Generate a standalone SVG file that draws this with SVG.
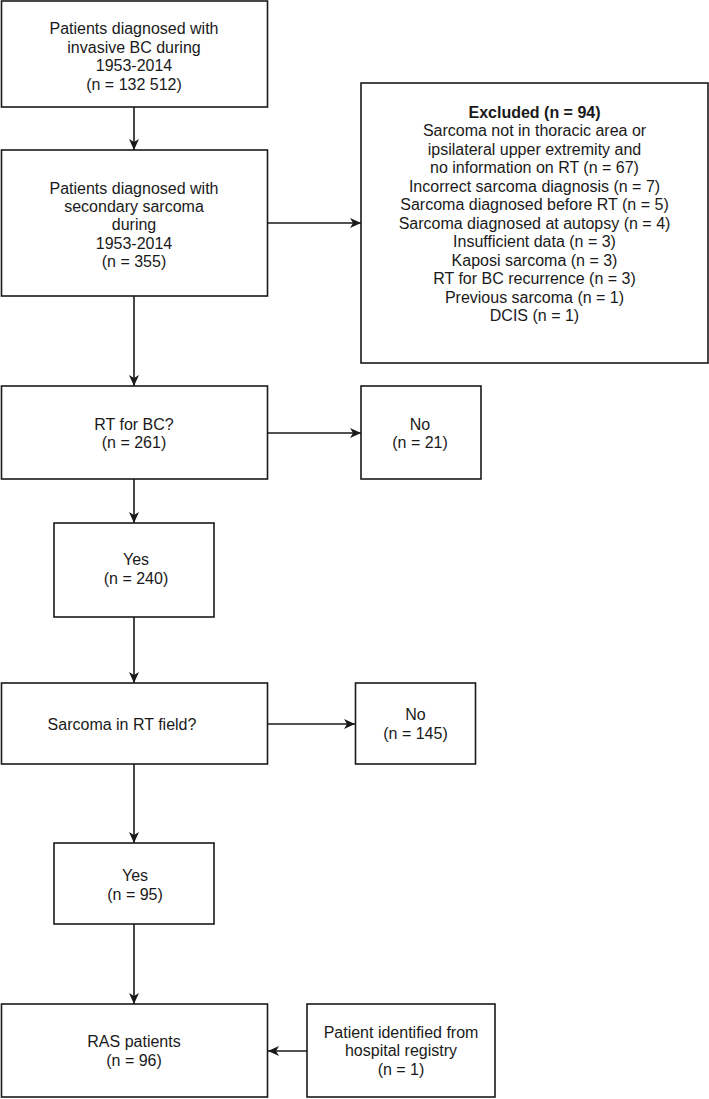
<svg xmlns="http://www.w3.org/2000/svg" width="709" height="1099" viewBox="0 0 709 1099">
<defs>
<style>
.box{fill:#fff;stroke:#1a1a1a;stroke-width:1.6}
.t{font-family:"Liberation Sans",Arial,sans-serif;font-size:16px;fill:#1a1a1a;text-anchor:middle}
.b{font-weight:bold}
.c{fill:none;stroke:#1a1a1a;stroke-width:1.6}
</style>
<marker id="ah" markerUnits="userSpaceOnUse" markerWidth="12" markerHeight="11" refX="11" refY="5.5" orient="auto">
<path d="M0,0.5 L11,5.5 L0,10.5 L3,5.5 z" fill="#1a1a1a"/>
</marker>
</defs>
<rect width="709" height="1099" fill="#fff"/>
<g id="connectors">
<line class="c" x1="134" y1="107" x2="134" y2="150" marker-end="url(#ah)"/>
<line class="c" x1="268" y1="223" x2="361" y2="223" marker-end="url(#ah)"/>
<line class="c" x1="134" y1="296" x2="134" y2="386" marker-end="url(#ah)"/>
<line class="c" x1="268" y1="433" x2="361" y2="433" marker-end="url(#ah)"/>
<line class="c" x1="134" y1="479" x2="134" y2="523" marker-end="url(#ah)"/>
<line class="c" x1="134" y1="617" x2="134" y2="683" marker-end="url(#ah)"/>
<line class="c" x1="268" y1="724" x2="355" y2="724" marker-end="url(#ah)"/>
<line class="c" x1="134" y1="764" x2="134" y2="843" marker-end="url(#ah)"/>
<line class="c" x1="134" y1="924" x2="134" y2="1004" marker-end="url(#ah)"/>
<line class="c" x1="307" y1="1051" x2="268" y2="1051" marker-end="url(#ah)"/>
</g>
<g id="n1">
<rect class="box" x="1.5" y="1" width="266" height="106"/>
<text class="t" x="134" y="34">Patients diagnosed with</text>
<text class="t" x="134" y="52.5">invasive BC during</text>
<text class="t" x="134" y="71">1953-2014</text>
<text class="t" x="134" y="89.5">(n = 132 512)</text>
</g>
<g id="n2">
<rect class="box" x="1.5" y="150" width="266" height="146"/>
<text class="t" x="134" y="193.5">Patients diagnosed with</text>
<text class="t" x="134" y="212">secondary sarcoma</text>
<text class="t" x="134" y="230">during</text>
<text class="t" x="134" y="248.5">1953-2014</text>
<text class="t" x="134" y="267">(n = 355)</text>
</g>
<g id="excluded">
<rect class="box" x="361" y="83" width="347" height="280"/>
<text class="t b" x="534.5" y="117.5">Excluded (n = 94)</text>
<text class="t" x="534.5" y="136">Sarcoma not in thoracic area or</text>
<text class="t" x="534.5" y="154.5">ipsilateral upper extremity and</text>
<text class="t" x="534.5" y="173">no information on RT (n = 67)</text>
<text class="t" x="534.5" y="191.5">Incorrect sarcoma diagnosis (n = 7)</text>
<text class="t" x="534.5" y="210">Sarcoma diagnosed before RT (n = 5)</text>
<text class="t" x="534.5" y="228.5">Sarcoma diagnosed at autopsy (n = 4)</text>
<text class="t" x="534.5" y="247">Insufficient data (n = 3)</text>
<text class="t" x="534.5" y="265.5">Kaposi sarcoma (n = 3)</text>
<text class="t" x="534.5" y="284">RT for BC recurrence (n = 3)</text>
<text class="t" x="534.5" y="302.5">Previous sarcoma (n = 1)</text>
<text class="t" x="534.5" y="321">DCIS (n = 1)</text>
</g>
<g id="rt">
<rect class="box" x="1.5" y="386" width="266" height="93"/>
<text class="t" x="134" y="429.5">RT for BC?</text>
<text class="t" x="134" y="448">(n = 261)</text>
</g>
<g id="no21">
<rect class="box" x="361" y="386" width="120" height="93"/>
<text class="t" x="420" y="429.5">No</text>
<text class="t" x="420" y="448">(n = 21)</text>
</g>
<g id="yes240">
<rect class="box" x="54" y="523" width="160" height="94"/>
<text class="t" x="136" y="565">Yes</text>
<text class="t" x="136" y="583.5">(n = 240)</text>
</g>
<g id="field">
<rect class="box" x="1.5" y="683" width="266" height="81"/>
<text class="t" x="122" y="730">Sarcoma in RT field?</text>
</g>
<g id="no145">
<rect class="box" x="355.5" y="683" width="120" height="81"/>
<text class="t" x="415.5" y="720">No</text>
<text class="t" x="415.5" y="739">(n = 145)</text>
</g>
<g id="yes95">
<rect class="box" x="54" y="843" width="160" height="81"/>
<text class="t" x="135" y="881">Yes</text>
<text class="t" x="135" y="900">(n = 95)</text>
</g>
<g id="ras">
<rect class="box" x="1.5" y="1004" width="266" height="93"/>
<text class="t" x="134" y="1047">RAS patients</text>
<text class="t" x="134" y="1066">(n = 96)</text>
</g>
<g id="registry">
<rect class="box" x="307" y="1004" width="188" height="93"/>
<text class="t" x="401" y="1037.5">Patient identified from</text>
<text class="t" x="401" y="1056">hospital registry</text>
<text class="t" x="401" y="1075">(n = 1)</text>
</g>
</svg>
